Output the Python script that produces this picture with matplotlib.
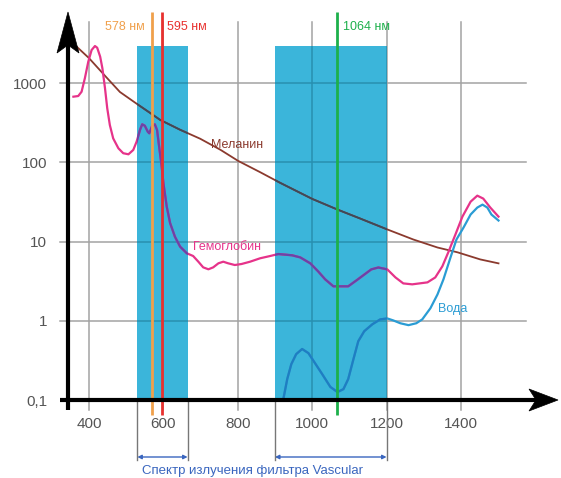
import numpy as np
import matplotlib
matplotlib.use('Agg')
import matplotlib.pyplot as plt
from matplotlib.patches import Rectangle, Polygon
from matplotlib import transforms
from matplotlib.ticker import NullLocator

plt.rcParams['font.family'] = ['Liberation Sans', 'DejaVu Sans']

# ---------------- data ----------------
hb_wl = [358, 371, 380, 389, 398, 407, 416, 422, 430, 436, 443, 449, 456, 465, 479,
         492, 506, 519, 528, 537, 543, 550, 558, 562, 570, 577, 583, 588, 595, 600,
         609, 618, 631, 645, 663, 680, 694, 707, 721, 734, 748, 761, 774, 792, 810,
         833, 860, 887, 909, 946, 968, 995, 1016, 1035, 1057, 1097, 1119, 1137,
         1159, 1178, 1202, 1224, 1245, 1269, 1310, 1331, 1350, 1366, 1385, 1404,
         1426, 1444, 1460, 1479, 1501]
hb_abs = [672, 685, 776, 1157, 1856, 2608, 2929, 2787, 2148, 1531, 858, 480, 295, 200,
          150, 130, 126, 143, 182, 255, 301, 289, 243, 232, 289, 301, 255, 165, 92,
          54.7, 27.5, 17.1, 11.5, 8.6, 7.1, 6.56, 5.56, 4.72, 4.46, 4.72, 5.31, 5.56,
          5.31, 5.05, 5.2, 5.56, 6.14, 6.56, 6.95, 6.7, 6.3, 5.3, 4.2, 3.33, 2.72,
          2.72, 3.23, 3.73, 4.45, 4.7, 4.45, 3.52, 2.96, 2.88, 3.05, 3.52, 4.86, 7.3,
          12.2, 20.6, 31.8, 37.9, 34.8, 26.8, 20.6]

water_wl = [922, 933, 944, 957, 973, 990, 1008, 1027, 1049, 1068, 1084, 1097, 1111,
            1124, 1140, 1162, 1183, 1202, 1218, 1237, 1259, 1280, 1296, 1318, 1337,
            1353, 1372, 1388, 1407, 1426, 1444, 1458, 1471, 1482, 1501]
water_abs = [0.1, 0.184, 0.284, 0.379, 0.44, 0.39, 0.29, 0.212, 0.146, 0.126, 0.137,
             0.184, 0.328, 0.552, 0.738, 0.904, 1.04, 1.07, 1.01, 0.93, 0.88, 0.93,
             1.04, 1.44, 2.15, 3.33, 6.3, 10.6, 15.0, 21.9, 26.8, 29.2, 26.8, 21.9, 18.4]

mel_wl = [368, 400, 446, 483, 529, 564, 591, 645, 699, 753, 801, 860, 914, 1000,
          1068, 1129, 1202, 1272, 1337, 1391, 1452, 1501]
mel_abs = [2840, 2060, 1190, 771, 544, 420, 343, 257, 198, 144, 104, 75, 55, 34.5,
           25.3, 19.5, 14.2, 10.6, 8.4, 7.3, 5.94, 5.3]

x_ticks = [400, 600, 800, 1000, 1200, 1400]
x_tick_labels = ['400', '600', '800', '1000', '1200', '1400']
y_ticks = [0.1, 1, 10, 100, 1000]
y_tick_labels = ['0,1', '1', '10', '100', '1000']
y_grid = [1, 10, 100, 1000]

band_starts = [530, 900]
band_ends = [665, 1200]
band_top = 2900

laser_wl = [570, 596, 1067]
laser_labels = ['578 нм', '595 нм', '1064 нм']

curve_names = ['Гемоглобин', 'Меланин', 'Вода']
bracket_label = 'Спектр излучения фильтра Vascular'

# ---------------- style ----------------
band_color = '#3BB5DA'
hb_color, hb_in = '#E6338A', '#6A44A8'
water_color, water_in = '#2A9CD4', '#1F7EC2'
mel_color, mel_in = '#8B3A2E', '#3F4A5A'
grid_color, grid_in = '#A3A3A3', '#2890B0'
laser_colors = ['#F0A04B', '#E8312F', '#1DB04B']
label_blue = '#3A66BF'
tick_color = '#555555'

W, H = 561, 478
fig = plt.figure(figsize=(W / 100, H / 100), dpi=100)
ax_l, ax_r, ax_t, ax_b = 68, 558, 12, 400
ax = fig.add_axes([ax_l / W, 1 - ax_b / H, (ax_r - ax_l) / W, (ax_b - ax_t) / H])
ax.set_yscale('log')
ax.set_xlim(343.5, 1661)
ax.set_ylim(0.1, 7870)
for s in ax.spines.values():
    s.set_visible(False)
ax.set_xticks(x_ticks, x_tick_labels)
ax.set_yticks(y_ticks, y_tick_labels)
ax.yaxis.set_minor_locator(NullLocator())
ax.tick_params(axis='both', length=0, labelsize=11, labelcolor=tick_color)
ax.tick_params(axis='x', pad=12.5)
ax.tick_params(axis='y', pad=15)
ax.patch.set_alpha(0)

tx_v = transforms.blended_transform_factory(ax.transData, ax.transAxes)
tx_h = transforms.blended_transform_factory(ax.transAxes, ax.transData)

# bands
rects = []
for x0, x1 in zip(band_starts, band_ends):
    r = Rectangle((x0, 0.1), x1 - x0, band_top - 0.1, facecolor=band_color,
                  edgecolor='none', zorder=2)
    ax.add_patch(r)
    rects.append(r)


def draw_grid(color, z, clip=None):
    arts = []
    for xv in x_ticks:
        l, = ax.plot([xv, xv], [0.974, -0.026], transform=tx_v, color=color, lw=1.1,
                     zorder=z, clip_on=False)
        arts.append(l)
    for yv in y_grid:
        l, = ax.plot([-0.0163, 0.935], [yv, yv], transform=tx_h, color=color, lw=1.1,
                     zorder=z, clip_on=False)
        arts.append(l)
    if clip is not None:
        for a in arts:
            a.set_clip_on(True)
            a.set_clip_path(clip)


draw_grid(grid_color, 1)
for r in rects:
    draw_grid(grid_in, 2.5, clip=r)

# curves (normal, then a darker copy seen through the bands)
curves = [(mel_wl, mel_abs, mel_color, mel_in, 1.3),
          (hb_wl, hb_abs, hb_color, hb_in, 1.6),
          (water_wl, water_abs, water_color, water_in, 1.6)]
for wl, ab, c, cin, lw in curves:
    ax.plot(wl, ab, color=c, lw=lw, zorder=3, solid_joinstyle='round')
    for r in rects:
        l, = ax.plot(wl, ab, color=cin, lw=lw, zorder=3.5, solid_joinstyle='round')
        l.set_clip_path(r)

# laser lines
for xv, c in zip(laser_wl, laser_colors):
    ax.plot([xv, xv], [1.0, -0.0387], transform=tx_v, color=c, lw=2.0, zorder=4,
            clip_on=False, solid_capstyle='butt')

ax.text(551, 5060, laser_labels[0], color=laser_colors[0], fontsize=9,
        ha='right', va='center')
ax.text(610, 5060, laser_labels[1], color=laser_colors[1], fontsize=9,
        ha='left', va='center')
ax.text(1084, 5060, laser_labels[2], color=laser_colors[2], fontsize=9,
        ha='left', va='center')

# curve labels
ax.text(729, 166, curve_names[1], color=mel_color, fontsize=9, ha='left', va='center')
ax.text(680, 8.6, curve_names[0], color=hb_color, fontsize=9, ha='left', va='center')
ax.text(1339, 1.40, curve_names[2], color=water_color, fontsize=9, ha='left', va='center')


def fx(px):
    return (px - ax_l) / (ax_r - ax_l)


def fy(py):
    return (ax_b - py) / (ax_b - ax_t)


# axis lines with arrowheads
ax.plot([fx(60), fx(540)], [0, 0], transform=ax.transAxes, color='black', lw=3,
        clip_on=False, zorder=5, solid_capstyle='butt')
ax.plot([0, 0], [fy(410), fy(40)], transform=ax.transAxes, color='black', lw=3,
        clip_on=False, zorder=5, solid_capstyle='butt')
ax.add_patch(Polygon([(fx(558), fy(400)), (fx(529), fy(389)), (fx(536), fy(400)),
                      (fx(529), fy(411))], closed=True, transform=ax.transAxes,
                     facecolor='black', edgecolor='black', lw=0.5, clip_on=False, zorder=6))
ax.add_patch(Polygon([(fx(68), fy(12)), (fx(57), fy(53)), (fx(68), fy(45)),
                      (fx(79), fy(53))], closed=True, transform=ax.transAxes,
                     facecolor='black', edgecolor='black', lw=0.5, clip_on=False, zorder=6))

# bottom brackets
for x0, x1 in zip(band_starts, band_ends):
    for xv in (x0, x1):
        ax.plot([xv, xv], [0, fy(460)], transform=tx_v, color='#777777', lw=1.0,
                clip_on=False, zorder=4)
    ax.annotate('', xy=(x0, fy(457)), xytext=(x1, fy(457)), xycoords=tx_v,
                textcoords=tx_v,
                arrowprops=dict(arrowstyle='<|-|>', color=label_blue, lw=1.0,
                                mutation_scale=6, shrinkA=0, shrinkB=0))

fig.text(253 / W, 1 - 471 / H, bracket_label, color=label_blue, fontsize=9.5,
         ha='center', va='center')

fig.savefig('out.png', dpi=100)
